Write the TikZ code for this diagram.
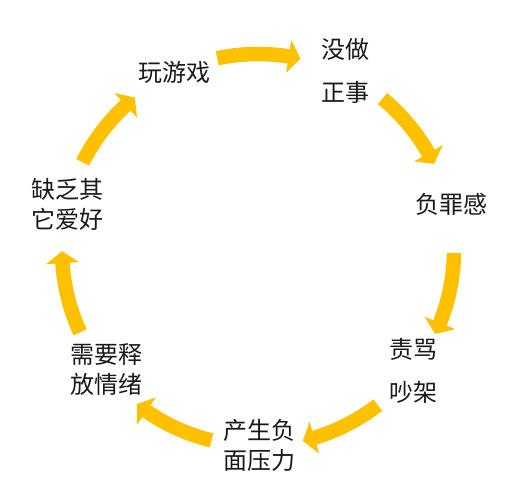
\documentclass[tikz,border=0pt]{standalone}
\usepackage{fontspec}
\newfontfamily\cjk{Noto Sans CJK SC}
\definecolor{gold}{HTML}{FFC000}
\begin{document}
\begin{tikzpicture}[x=1pt,y=1pt,
  lbl/.style={font=\cjk\fontsize{24}{30}\selectfont, align=center, inner sep=0pt, text=black!90}]
\useasboundingbox (0,0) rectangle (527,499);
\coordinate (C) at (258,249);
% labels
\node[lbl] (n1) at (174,427) {玩游戏};
\node[lbl] (n2) at (345,428.5) {没做\\[13pt]正事};
\node[lbl] (n3) at (451,295) {负罪感};
\node[lbl] (n4) at (413,128.5) {责骂\\[13pt]吵架};
\node[lbl] (n5) at (259,54) {产生负\\面压力};
\node[lbl] (n6) at (106,129) {需要释\\放情绪};
\node[lbl] (n7) at (67,295) {缺乏其\\它爱好};
% block arrows along the circle
\foreach \k in {0,...,6}{
  \pgfmathsetmacro\as{102-51.43*\k}
  \pgfmathsetmacro\at{\as-24.5}
  \pgfmathsetmacro\ab{\at+3.5}
  \fill[gold] ([shift={(\as:203.25)}]C) arc[start angle=\as, end angle=\ab, radius=203.25]
     -- ([shift={(\ab:212.5)}]C) -- ([shift={(\at:196)}]C) -- ([shift={(\ab:179.5)}]C)
     -- ([shift={(\ab:188.75)}]C) arc[start angle=\ab, end angle=\as, radius=188.75] -- cycle;
}
\end{tikzpicture}
\end{document}
